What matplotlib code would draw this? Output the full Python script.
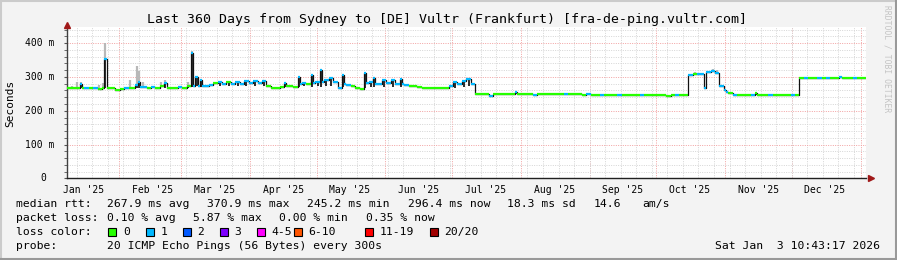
import matplotlib
matplotlib.use("Agg")
import matplotlib.pyplot as plt
import matplotlib.dates as mdates
import matplotlib.transforms as mtransforms
from matplotlib.patches import Rectangle
import numpy as np
from datetime import datetime, timedelta

plt.rcParams['font.family'] = ['DejaVu Sans Mono']

# --- data: step segments over 360 days ending Sat Jan 3 2026 10:43 ---
start = datetime(2025, 1, 8, 10, 43)

# duration (days), median rtt (ms) and lost pings per segment
seg_dur = [2, 2, 2, 1, 1, 2, 2, 2, 2, 1, 1, 2,
           2, 2, 2, 2, 2, 1, 1, 1, 1, 2, 2, 2,
           2, 2, 1, 1, 2, 2, 2, 2, 2, 1, 1, 1, 1,
           1, 1, 2, 2, 2, 2, 2, 2, 2, 2, 2,
           2, 2, 2, 2, 2, 2, 2, 2, 2, 1, 1,
           2, 2, 1, 1, 2, 2, 1, 1, 2, 1, 1, 2, 2,
           2, 2, 1, 1, 2, 2, 2, 2, 1, 1, 2, 1, 1,
           2, 2, 2, 2, 2, 1, 1, 2, 2, 2, 2,
           2, 2, 2, 2, 2, 2, 2, 2, 2, 2,
           2, 2, 2, 2, 2, 2, 2, 2, 2, 2,
           2, 1, 1, 2, 2, 2, 2, 2, 2, 2, 2,
           2, 2, 2, 2, 2, 2, 2, 2, 2, 2,
           2, 2, 2, 2, 2, 2, 2, 2, 2, 2,
           2, 2, 2, 2, 2, 2, 2, 2, 2, 2,
           2, 2, 2, 1, 1, 2, 2, 2, 2, 1, 1, 2,
           2, 2, 2, 2, 2, 1, 1, 2, 2, 2, 2,
           2, 2, 2, 2, 2, 2, 2, 2, 2, 2,
           2, 2, 2, 2, 1, 1, 2, 2, 2, 2, 2]
seg_med = [266, 267, 268, 280, 268, 268, 266, 268, 265, 266, 352, 268,
           266, 262, 264, 268, 267, 268, 276, 285, 270, 270, 268, 271,
           267, 272, 282, 268, 268, 268, 270, 267, 272, 371, 272, 300, 274,
           290, 272, 274, 276, 282, 286, 278, 284, 280, 286, 279,
           287, 281, 289, 282, 289, 272, 268, 268, 269, 283, 272,
           272, 270, 299, 280, 282, 278, 306, 282, 285, 321, 285, 290, 296,
           284, 267, 306, 280, 276, 272, 268, 265, 311, 282, 285, 297, 280,
           280, 292, 282, 290, 278, 295, 280, 276, 272, 274, 270,
           268, 268, 267, 268, 268, 267, 272, 284, 278, 288,
           293, 280, 250, 249, 249, 245, 249, 250, 249, 250,
           249, 257, 250, 250, 249, 249, 248, 249, 249, 250, 249,
           249, 250, 249, 249, 250, 249, 248, 249, 248, 248,
           248, 248, 248, 247, 248, 248, 247, 248, 248, 248,
           247, 248, 247, 248, 246, 245, 247, 248, 247, 248,
           305, 309, 310, 308, 268, 316, 318, 312, 272, 262, 255, 252,
           248, 248, 247, 248, 248, 252, 248, 248, 247, 248, 248,
           247, 248, 248, 247, 248, 296, 296, 296, 296, 297,
           296, 296, 296, 297, 301, 296, 296, 296, 297, 296, 296]
seg_loss = [0, 0, 0, 1, 0, 1, 0, 1, 0, 0, 1, 0,
            0, 0, 0, 1, 0, 0, 1, 1, 1, 1, 0, 1,
            0, 0, 1, 0, 0, 0, 1, 0, 0, 1, 1, 1, 1,
            1, 1, 1, 1, 0, 1, 1, 0, 1, 1, 1,
            1, 1, 1, 1, 1, 0, 0, 0, 0, 1, 0,
            0, 0, 1, 1, 1, 0, 1, 1, 1, 1, 1, 1, 1,
            1, 1, 1, 1, 1, 0, 0, 0, 1, 1, 1, 1, 1,
            1, 1, 1, 1, 1, 1, 1, 1, 0, 0, 0,
            0, 0, 0, 0, 0, 0, 1, 1, 1, 1,
            1, 1, 0, 0, 0, 1, 0, 0, 0, 0,
            0, 1, 0, 0, 0, 0, 1, 0, 0, 0, 0,
            0, 0, 1, 0, 0, 0, 0, 1, 0, 0,
            1, 0, 0, 0, 1, 0, 0, 0, 0, 1,
            0, 0, 0, 0, 0, 0, 0, 1, 0, 0,
            1, 0, 1, 1, 1, 1, 1, 1, 1, 1, 1, 0,
            1, 0, 0, 0, 1, 0, 0, 0, 0, 1, 0,
            0, 0, 0, 1, 0, 0, 1, 0, 0, 1,
            0, 1, 0, 0, 1, 0, 0, 0, 1, 0, 0]

# smoke: day offset, bottom of dark smoke, top of light smoke (ms)
smoke_day = [2.5, 4.5, 6.5, 14.5, 16.5, 17.5, 28.5, 31.5, 32.5, 34.5, 38.5, 42.5,
             44.5, 54.5, 56.5, 58.5, 60.5, 69, 73, 77, 81, 85, 89, 98.5, 104.5,
             107, 110.5, 113, 114.5, 117, 119, 124.5, 134.5, 137, 138.5, 143, 147,
             150.5, 175, 179, 181, 202.5, 283, 291, 293, 310.5, 348.5]
smoke_lo = [267, 268, 267, 265, 266, 268, 267, 267, 267, 270, 266, 272,
            267, 266, 270, 272, 270, 272, 272, 272, 272, 272, 272, 270, 270,
            272, 270, 272, 270, 272, 272, 270, 268, 270, 270, 270, 270,
            270, 268, 270, 272, 249, 309, 318, 312, 248, 296]
smoke_hi = [272, 286, 286, 275, 283, 402, 290, 332, 318, 285, 271, 285,
            292, 284, 378, 304, 290, 0, 0, 0, 0, 0, 0, 0, 0,
            0, 0, 0, 0, 0, 0, 0, 0, 0, 0, 0, 0,
            0, 0, 0, 0, 0, 314, 325, 320, 0, 0]

loss_labels = ['0', '1', '2', '3', '4-5', '6-10', '11-19', '20/20']
loss_colors = ['#26ff00', '#00b8ff', '#0059ff', '#7e00ff', '#ff00fe', '#ff5500', '#ff0000', '#a10000']

month_labels = ["Jan '25", "Feb '25", "Mar '25", "Apr '25", "May '25", "Jun '25",
                "Jul '25", "Aug '25", "Sep '25", "Oct '25", "Nov '25", "Dec '25"]
ytick_vals = [0, 100, 200, 300, 400]
ytick_labels = ['0', '100 m', '200 m', '300 m', '400 m']

title = 'Last 360 Days from Sydney to [DE] Vultr (Frankfurt) [fra-de-ping.vultr.com]'

# --- figure ---
W, H = 897, 260
fig = plt.figure(figsize=(W / 100, H / 100), dpi=100, facecolor='#f3f3f3')

def fx(x):
    return x / W

def fy(y):
    return 1 - y / H

ax_l, ax_r, ax_t, ax_b = 66.6, 866.0, 27.0, 178.3
ax = fig.add_axes([fx(ax_l), fy(ax_b), (ax_r - ax_l) / W, (ax_b - ax_t) / H])
ax.set_facecolor('white')

t0 = mdates.date2num(start)
day_edges = np.r_[0, np.cumsum(seg_dur)]
edges = t0 + day_edges
med_a = np.array(seg_med, dtype=float)

# smoke as thin vertical strokes
sd = np.array(smoke_day)
seg_of = np.searchsorted(day_edges, sd, side='right') - 1
sm_med = med_a[seg_of]
hi_a = np.maximum(smoke_hi, sm_med)
lo_a = np.minimum(smoke_lo, sm_med)
ax.vlines(t0 + sd, sm_med, hi_a, color='#b8b8b8', lw=1.6, zorder=2)
ax.vlines(t0 + sd, lo_a, sm_med, color='#1a1a1a', lw=1.3, zorder=3)

ext = lambda a: np.r_[a, a[-1]]
ax.step(edges, ext(med_a), where='post', color='#111111', lw=0.9, zorder=4)
ax.hlines(med_a, edges[:-1], edges[1:], colors=[loss_colors[l] for l in seg_loss], lw=1.6, zorder=5)

ax.set_xlim(edges[0], edges[-1])
ax.set_ylim(0, 448)

# grid
dot = (0, (1, 1.4))
ax.set_yticks(ytick_vals)
ax.set_yticks(np.arange(0, 448, 20), minor=True)
ax.set_yticklabels([])
ax.xaxis.set_minor_locator(mdates.WeekdayLocator(byweekday=mdates.MO))
ax.grid(which='minor', color='#d4d4d4', lw=0.7, ls=dot, zorder=0)
ax.grid(which='major', axis='y', color='#f2a0a0', lw=0.7, ls=dot, zorder=1)
for m in range(2, 14):
    d = datetime(2025 + (m - 1) // 12, (m - 1) % 12 + 1, 1)
    ax.axvline(mdates.date2num(d), color='#f2a0a0', lw=0.7, ls=dot, zorder=1)

mid = [mdates.date2num(datetime(2025, m, 16)) for m in range(1, 13)]
ax.set_xticks(mid)
ax.set_xticklabels(month_labels, fontsize=7)
ax.tick_params(axis='x', which='major', length=0, pad=4.5, colors='#000000')
ax.tick_params(axis='x', which='minor', length=0)
ax.tick_params(axis='y', which='both', length=2, color='#555555')

ytr = mtransforms.blended_transform_factory(ax.transAxes, ax.transData)
for v, lab in zip(ytick_vals, ytick_labels):
    xoff = -0.0158 if v else -0.025
    ax.text(xoff, v, lab, transform=ytr, ha='right', va='center', fontsize=7)

for s in ['top', 'right']:
    ax.spines[s].set_visible(False)
ax.spines['left'].set_color('#404040')
ax.spines['bottom'].set_color('#202020')
ax.spines['left'].set_linewidth(1)
ax.spines['bottom'].set_linewidth(1)

# axis arrows
ax.plot([0], [1.016], marker='^', ms=4.5, color='#a01818', transform=ax.transAxes, clip_on=False, zorder=6)
ax.plot([1.006], [0], marker='>', ms=4.5, color='#a01818', transform=ax.transAxes, clip_on=False, zorder=6)

fig.text(fx(10.5), fy(103), 'Seconds', rotation=90, ha='center', va='center', fontsize=8)
fig.text(fx(446.5), fy(19.3), title, ha='center', va='center', fontsize=9.5)
fig.text(fx(887), fy(5), 'RRDTOOL / TOBI OETIKER', rotation=270, ha='center', va='top',
         fontsize=5.8, color='#c4c4c4')

# legend block
fs = 8.2
y1, y2, y3, y4 = 204, 218.3, 231.7, 246
fig.text(fx(16), fy(y1), 'median rtt:', ha='left', va='center', fontsize=fs)
for x, s in [(107.3, '267.9 ms avg'), (207.3, '370.9 ms max'), (307.3, '245.2 ms min'),
             (408, '296.4 ms now'), (507.3, '18.3 ms sd'), (593.3, '14.6'), (642.3, 'am/s')]:
    fig.text(fx(x), fy(y1), s, ha='left', va='center', fontsize=fs)
fig.text(fx(16), fy(y2), 'packet loss:', ha='left', va='center', fontsize=fs)
for x, s in [(107.3, '0.10 % avg'), (193.3, '5.87 % max'), (279, '0.00 % min'), (365.7, '0.35 % now')]:
    fig.text(fx(x), fy(y2), s, ha='left', va='center', fontsize=fs)
fig.text(fx(16), fy(y3), 'loss color:', ha='left', va='center', fontsize=fs)
box_x = [108.3, 145.7, 182.7, 220, 256.7, 294, 365, 430]
for bx, lab, col in zip(box_x, loss_labels, loss_colors):
    fig.add_artist(Rectangle((fx(bx), fy(y3 + 4)), 8 / W, 8 / H, transform=fig.transFigure,
                             facecolor=col, edgecolor='black', lw=0.8))
    fig.text(fx(bx + 14.5), fy(y3), lab, ha='left', va='center', fontsize=fs)
fig.text(fx(16), fy(y4), 'probe:', ha='left', va='center', fontsize=fs)
fig.text(fx(107.3), fy(y4), '20 ICMP Echo Pings (56 Bytes) every 300s', ha='left', va='center', fontsize=fs)
fig.text(fx(880), fy(y4), 'Sat Jan  3 10:43:17 2026', ha='right', va='center', fontsize=fs)

# image frame (rrdtool shades)
fig.add_artist(plt.Line2D([0, 1], [1 - 1 / H, 1 - 1 / H], transform=fig.transFigure, color='#cbcbcb', lw=1.5))
fig.add_artist(plt.Line2D([1 / W, 1 / W], [0, 1], transform=fig.transFigure, color='#cbcbcb', lw=1.5))
fig.add_artist(plt.Line2D([0, 1], [1 / H, 1 / H], transform=fig.transFigure, color='#999999', lw=1.5))
fig.add_artist(plt.Line2D([1 - 1 / W, 1 - 1 / W], [0, 1], transform=fig.transFigure, color='#999999', lw=1.5))

fig.savefig('out.png', dpi=100, facecolor=fig.get_facecolor())
